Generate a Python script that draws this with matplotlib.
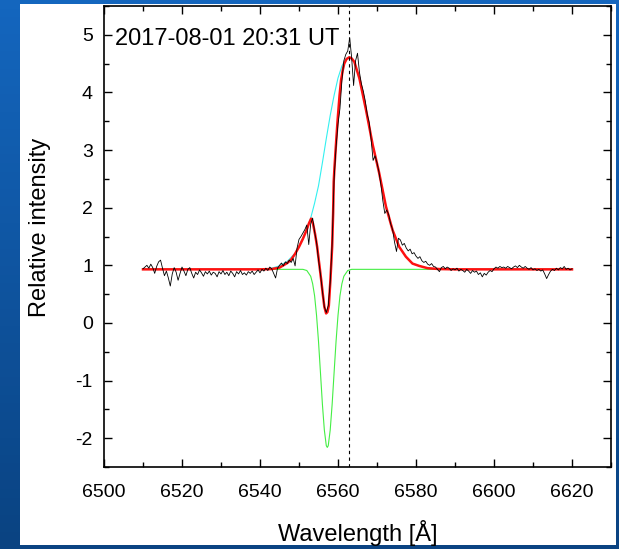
import numpy as np
import matplotlib
matplotlib.use("Agg")
import matplotlib.pyplot as plt
import matplotlib.ticker as ticker
from matplotlib.colors import LinearSegmentedColormap
from matplotlib.patches import Rectangle

plt.rcParams['font.family'] = ['Liberation Sans', 'DejaVu Sans']
plt.rcParams['axes.unicode_minus'] = False

# observed spectrum, sampled every 0.5 A from 6510 A
wave_start = 6510.0
wave_step = 0.5
flux = [
    0.94, 0.97, 1.00, 0.95, 1.02, 0.96, 0.86, 0.98, 1.06, 1.09, 0.95, 0.82, 0.90, 0.78, 0.64, 0.85, 0.96, 0.88, 0.74, 0.86,
    0.97, 0.90, 0.82, 0.93, 0.96, 0.86, 0.78, 0.88, 0.84, 0.92, 0.87, 0.81, 0.89, 0.85, 0.90, 0.83, 0.88, 0.86, 0.80, 0.89,
    0.85, 0.91, 0.84, 0.88, 0.82, 0.90, 0.86, 0.80, 0.89, 0.85, 0.91, 0.84, 0.87, 0.83, 0.89, 0.86, 0.90, 0.84, 0.88, 0.92,
    0.87, 0.93, 0.90, 0.95, 0.91, 0.97, 0.94, 0.86, 0.78, 0.95, 1.00, 1.04, 0.99, 1.06, 1.03, 1.09, 1.05, 1.12, 0.99, 1.30,
    1.45, 1.50, 1.56, 1.62, 1.70, 1.36, 1.72, 1.82, 1.58, 1.40, 1.10, 0.85, 0.55, 0.28, 0.18, 0.30, 0.70, 1.38, 2.50, 3.05,
    3.45, 3.72, 4.20, 4.55, 4.66, 4.72, 4.95, 4.60, 4.12, 4.55, 4.68, 4.35, 4.15, 4.02, 3.85, 3.62, 3.48, 3.18, 2.82, 2.90,
    2.78, 2.62, 2.40, 2.12, 1.90, 1.96, 1.88, 1.72, 1.62, 1.40, 1.24, 1.47, 1.44, 1.35, 1.38, 1.30, 1.25, 1.28, 1.20, 1.22,
    1.16, 1.12, 1.15, 1.08, 1.05, 1.07, 1.02, 1.00, 1.03, 0.98, 0.97, 0.93, 0.89, 0.96, 0.98, 0.94, 0.97, 0.95, 0.91, 0.94,
    0.92, 0.95, 0.90, 0.93, 0.91, 0.88, 0.93, 0.90, 0.86, 0.91, 0.88, 0.90, 0.84, 0.87, 0.80, 0.86, 0.83, 0.88, 0.91, 0.89,
    0.94, 0.97, 0.95, 0.98, 0.96, 0.97, 0.95, 0.98, 0.96, 0.94, 0.97, 0.99, 0.96, 1.00, 0.97, 0.95, 0.98, 0.95, 0.93, 0.96,
    0.92, 0.94, 0.91, 0.93, 0.90, 0.92, 0.85, 0.77, 0.84, 0.90, 0.93, 0.91, 0.95, 0.92, 0.96, 0.94, 0.98, 0.93, 0.95, 0.92,
    0.94,
]

# total fit (red)
fit_wave = [6510, 6540, 6543, 6545, 6547, 6548, 6549, 6550, 6551, 6552,
            6552.5, 6553.1, 6553.6, 6554.1, 6554.65, 6555.2, 6555.7, 6556.1, 6556.5, 6556.95,
            6557.3, 6557.65, 6558.05, 6558.5, 6558.75, 6558.9, 6559.1, 6559.5, 6559.9, 6560.4,
            6560.8, 6561.2, 6561.6, 6562.2, 6562.9, 6563.5, 6564.2, 6565.5, 6567.2, 6568.9,
            6570.5, 6572.3, 6574.0, 6575.7, 6577.4, 6579.1, 6580.8, 6583, 6586, 6590, 6620]
fit_flux = [0.93, 0.93, 0.935, 0.96, 1.04, 1.10, 1.20, 1.32, 1.46, 1.62,
            1.72, 1.81, 1.72, 1.55, 1.32, 1.02, 0.74, 0.50, 0.28, 0.165,
            0.19, 0.30, 0.74, 1.32, 1.90, 2.45, 2.70, 3.12, 3.52, 3.95,
            4.22, 4.38, 4.50, 4.58, 4.61, 4.59, 4.53, 4.24, 3.69, 3.09,
            2.62, 2.02, 1.61, 1.32, 1.15, 1.03, 0.99, 0.95, 0.935, 0.93, 0.93]

# emission component (cyan)
emis_wave = [6510, 6540, 6543, 6545, 6547, 6549, 6551, 6552, 6553, 6554,
             6555, 6556, 6557, 6558, 6559, 6560, 6561, 6562, 6562.9, 6563.5,
             6564.2, 6565.5, 6567.2, 6568.9, 6570.5, 6572.3, 6574.0, 6575.7, 6577.4, 6579.1,
             6580.8, 6583, 6586, 6590, 6620]
emis_flux = [0.93, 0.93, 0.95, 0.99, 1.07, 1.21, 1.47, 1.63, 1.82, 2.08,
             2.38, 2.78, 3.20, 3.60, 3.95, 4.25, 4.46, 4.58, 4.62, 4.60,
             4.53, 4.24, 3.69, 3.09, 2.62, 2.02, 1.61, 1.32, 1.15, 1.03,
             0.99, 0.95, 0.935, 0.93, 0.93]

# absorption component (green)
abs_wave = [6510, 6551, 6552, 6553, 6553.5, 6554, 6554.5, 6555, 6555.5, 6556,
            6556.5, 6557, 6557.25, 6557.5, 6558, 6558.5, 6559, 6559.5, 6560, 6560.5,
            6561, 6561.5, 6562.5, 6563.5, 6620]
abs_flux = [0.93, 0.93, 0.91, 0.81, 0.68, 0.47, 0.13, -0.32, -0.86, -1.41,
            -1.86, -2.13, -2.16, -2.13, -1.86, -1.41, -0.86, -0.32, 0.13, 0.47,
            0.68, 0.81, 0.91, 0.93, 0.93]

H_ALPHA = 6562.8
stamp = "2017-08-01 20:31 UT"

wave = wave_start + wave_step * np.arange(len(flux))

fig = plt.figure(figsize=(6.19, 5.49), dpi=100)

# slide-like blue frame with white panel
bg = fig.add_axes([0, 0, 1, 1], zorder=-10)
blues = LinearSegmentedColormap.from_list("frame", ["#0a4382", "#1466be"])
bg.imshow(np.linspace(0, 1, 64).reshape(-1, 1), cmap=blues, origin="lower",
          extent=[0, 1, 0, 1], aspect="auto")
bg.add_patch(Rectangle((20 / 619, 4 / 549), 596 / 619, 541 / 549, facecolor="white", edgecolor="none"))
bg.set_xlim(0, 1)
bg.set_ylim(0, 1)
bg.axis("off")

ax = fig.add_axes([104 / 619, 82 / 549, 507 / 619, 461 / 549])
ax.set_facecolor("white")

ax.plot(emis_wave, emis_flux, color="#33f0f0", lw=0.8, zorder=2)
ax.plot(abs_wave, abs_flux, color="#44ee44", lw=0.8, zorder=2)
ax.plot(fit_wave, fit_flux, color="#ff1010", lw=1.8, zorder=3)
ax.plot(wave, flux, color="black", lw=0.6, zorder=4)
ax.axvline(H_ALPHA, color="black", lw=0.8, ls=(0, (3, 3)), zorder=5)

ax.set_xlim(6500, 6630)
ax.set_ylim(-2.5, 5.5)
ax.xaxis.set_major_locator(ticker.MultipleLocator(20))
ax.xaxis.set_minor_locator(ticker.MultipleLocator(10))
ax.yaxis.set_major_locator(ticker.MultipleLocator(1))
ax.yaxis.set_minor_locator(ticker.MultipleLocator(0.5))
ax.tick_params(which="both", direction="in", top=True, right=True, width=1.0, colors="black")
ax.tick_params(which="major", length=6)
ax.tick_params(which="minor", length=3.5)
ax.tick_params(axis="x", labelsize=14, pad=12)
ax.tick_params(axis="y", labelsize=14, pad=8)
for s in ax.spines.values():
    s.set_linewidth(1.2)

ax.set_xlabel("Wavelength [Å]", fontsize=17)
ax.set_ylabel("Relative intensity", fontsize=17)
ax.xaxis.set_label_coords(0.5, -0.115)
ax.yaxis.set_label_coords(-0.104, 0.52)

ax.text(0.022, 0.915, stamp, transform=ax.transAxes, fontsize=17, va="baseline", ha="left")

fig.savefig("out.png", dpi=100)
